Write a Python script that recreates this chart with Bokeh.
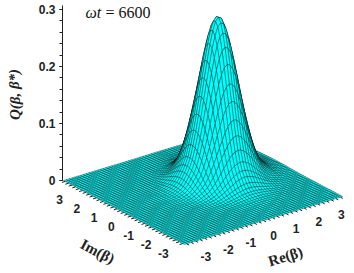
import numpy as np
from bokeh.embed import file_html
from bokeh.resources import INLINE
from bokeh.plotting import figure
from bokeh.models import Range1d, FixedTicker
from bokeh.core.properties import value

# Surface cuts, one value per mesh line, step 0.125.
re_mesh = [-3.5 + 0.125 * k for k in range(57)]
im_mesh = [-3.5 + 0.125 * k for k in range(57)]
q_along_re = [
    0, 0, 0, 0, 0, 0, 0, 0, .0001, .0002, .0003, .0005, .0007, .001, .0014, .002, .0028, .0038, .0052,
    .0075, .010, .015, .022, .031, .041, .054, .074, .098, .125, .155, .186, .215, .243, .265, .280,
    .286, .283, .271, .252, .227, .198, .167, .137, .109, .083, .062, .045, .034, .025, .018, .012,
    .0085, .006, .0043, .0031, .0023, .0016]
q_along_im = [
    0, 0, 0, .0001, .0002, .0003, .0005, .0007, .0009, .0013, .0019, .0026, .0036, .005, .0072, .0095,
    .014, .020, .029, .038, .051, .070, .093, .119, .149, .178, .210, .238, .261, .277, .285, .284,
    .275, .257, .232, .204, .174, .142, .114, .088, .066, .049, .036, .027, .019, .013, .009, .0068,
    .0047, .0034, .0024, .0017, .0012, .0009, .0006, .0004, .0003]
q_im_top = 0.285

z_ticks = [0, 0.1, 0.2, 0.3]
z_minor = [round(0.02 * k, 2) for k in range(16)]
base_ticks = [-3, -2, -1, 0, 1, 2, 3]
base_tick_labels = ["-3", "-2", "-1", "0", "1", "2", "3"]
base_minor = [round(-3.4 + 0.2 * k, 1) for k in range(35)]

# Oblique view: reference-pixel position of (re, im, z)
PX0, PY0 = 202.5, 188.0
RX, RY = 22.6, -6.86
IX, IY = -17.3, -9.14
PER_Q = 570.0
Z0_PY = 180.0

def to_x(re, im):
    return PX0 + RX * np.asarray(re) + IX * np.asarray(im)

def to_y(re, im, q=0.0):
    py = PY0 + RY * np.asarray(re) + IY * np.asarray(im)
    return (Z0_PY - py) / PER_Q + np.asarray(q)

def py(v):
    return (Z0_PY - v) / PER_Q

W, H = 354, 273
p = figure(width=W, height=H, output_backend="svg", toolbar_location=None,
           x_axis_location=None,
           x_range=Range1d(0, W), y_range=Range1d(py(H), py(0)),
           min_border_left=0, min_border_right=0, min_border_top=0, min_border_bottom=0)
p.grid.visible = False
p.outline_line_color = None
p.background_fill_color = "white"

ax = p.yaxis[0]
ax.fixed_location = 62
ax.ticker = FixedTicker(ticks=z_ticks, minor_ticks=z_minor)
ax.bounds = (0, 0.307)
ax.major_label_overrides = {0: "0", 0.1: "0.1", 0.2: "0.2", 0.3: "0.3"}
ax.major_tick_in = 0
ax.major_tick_out = 3
ax.minor_tick_in = 0
ax.minor_tick_out = 3
ax.major_tick_line_color = "#222222"
ax.minor_tick_line_color = "#222222"
ax.axis_line_color = "#222222"
ax.major_label_text_font = "Liberation Sans"
ax.major_label_text_font_style = "bold"
ax.major_label_text_font_size = "12px"
ax.major_label_text_color = "#222222"
ax.major_label_standoff = 4

# surface, back to front
re_a, im_a = np.array(re_mesh), np.array(im_mesh)
Q = np.outer(np.array(q_along_re), np.array(q_along_im)) / q_im_top
xs, ys = [], []
n_re, n_im = len(re_a), len(im_a)
cells = sorted(((i, j) for i in range(n_re - 1) for j in range(n_im - 1)), key=lambda c: -(c[0] + c[1]))
for i, j in cells:
    ii = [i, i + 1, i + 1, i]
    jj = [j, j, j + 1, j + 1]
    xs.append(to_x(re_a[ii], im_a[jj]).tolist())
    ys.append(to_y(re_a[ii], im_a[jj], Q[ii, jj]).tolist())
p.patches(xs, ys, fill_color="#00ffff", line_color="#000000", line_width=0.32)

# base ticks
TICK = 0.14
minor = np.array(base_minor)
sx0 = to_x(np.full_like(minor, -3.5), minor).tolist() + to_x(minor, np.full_like(minor, -3.5)).tolist()
sy0 = to_y(np.full_like(minor, -3.5), minor).tolist() + to_y(minor, np.full_like(minor, -3.5)).tolist()
sx1 = to_x(np.full_like(minor, -3.5 - TICK), minor).tolist() + to_x(minor, np.full_like(minor, -3.5 - TICK)).tolist()
sy1 = to_y(np.full_like(minor, -3.5 - TICK), minor).tolist() + to_y(minor, np.full_like(minor, -3.5 - TICK)).tolist()
p.segment(sx0, sy0, sx1, sy1, line_color="#222222", line_width=1)

bt = np.array(base_ticks, dtype=float)
lab_font = value("Liberation Sans")
p.text(to_x(np.full_like(bt, -3.5), bt) - 12.5, to_y(np.full_like(bt, -3.5), bt) - 14 / PER_Q,
       text=base_tick_labels, text_font=lab_font, text_font_style="bold", text_font_size="12px",
       text_color="#222222", text_align="center", text_baseline="middle")
p.text(to_x(bt, np.full_like(bt, -3.5)) + 10, to_y(bt, np.full_like(bt, -3.5)) - 15 / PER_Q,
       text=base_tick_labels, text_font=lab_font, text_font_style="bold", text_font_size="12px",
       text_color="#222222", text_align="center", text_baseline="middle")

serif = value("Liberation Serif")
p.text([14], [py(94)], text=["Q(β, β*)"], angle=[90], angle_units="deg", text_font=serif,
       text_font_style="bold italic", text_font_size="15px", text_color="#222222",
       text_align="center", text_baseline="middle")
p.text([97], [py(251)], text=["Im(β)"], angle=[-28], angle_units="deg", text_font=serif,
       text_font_style="bold", text_font_size="15px", text_color="#222222",
       text_align="center", text_baseline="middle")
p.text([285], [py(256)], text=["Re(β)"], angle=[17], angle_units="deg", text_font=serif,
       text_font_style="bold", text_font_size="15px", text_color="#222222",
       text_align="center", text_baseline="middle")
p.text([85], [py(12)], text=["ωt"], text_font=serif, text_font_style="italic", text_font_size="16px",
       text_color="#111111", text_align="left", text_baseline="middle")
p.text([105], [py(12)], text=["= 6600"], text_font=serif, text_font_size="16px",
       text_color="#111111", text_align="left", text_baseline="middle")

open("out.html", "w").write(file_html(p, INLINE))
